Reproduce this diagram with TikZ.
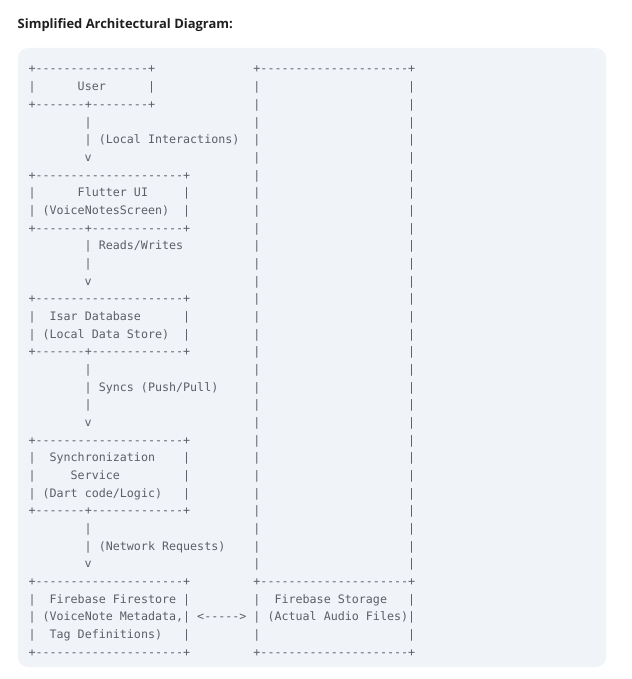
\documentclass[tikz,border=0pt]{standalone}
\usepackage{fontspec}
\setmonofont{DejaVu Sans Mono}
\newfontfamily\headfont{Open Sans}
\usepackage{tikz}
\usetikzlibrary{positioning}
\definecolor{codebg}{RGB}{240,243,248}
\definecolor{codeink}{RGB}{92,96,102}
\definecolor{headink}{RGB}{31,31,31}
\tikzset{asc/.style={anchor=base west, inner sep=0pt, outer sep=0pt, text=codeink, font=\ttfamily\fontsize{11.68}{14}\selectfont}}
\tikzset{headline/.style={anchor=base west, inner sep=0pt, text=headink, font=\headfont\bfseries\fontsize{12.95}{16}\selectfont}}
\tikzset{codepanel/.style={fill=codebg, draw=none, rounded corners=10pt}}

\begin{document}
\begin{tikzpicture}[x=1pt, y=-1pt]
                \useasboundingbox (0,0) rectangle (631,679);
                \node[headline] (title) at (17.5,28.3) {Simplified Architectural Diagram:};
                \path[codepanel] (18,48) rectangle (606,667);
                %
                \begin{scope}[shift={(28.5,73)}, x=7.03pt, y=-17.67pt]
                % user box
                \node[asc] (user1) at (0,0) {+----------------+};
                \node[asc] (user2) at (0,1) {|~~~~~~User~~~~~~|};
                \node[asc] (user3) at (0,2) {+-------+--------+};
                \node[asc] (link1a) at (8,3) {|};
                \node[asc] (link1b) at (8,4) {|~(Local Interactions)};
                \node[asc] (link1c) at (8,5) {v};
                % flutter ui
                \node[asc] (ui1) at (0,6) {+---------------------+};
                \node[asc] (ui2) at (0,7) {|~~~~~~Flutter~UI~~~~~|};
                \node[asc] (ui3) at (0,8) {|~(VoiceNotesScreen)~~|};
                \node[asc] (ui4) at (0,9) {+-------+-------------+};
                \node[asc] (link2a) at (8,10) {|~Reads/Writes};
                \node[asc] (link2b) at (8,11) {|};
                \node[asc] (link2c) at (8,12) {v};
                % isar database
                \node[asc] (isar1) at (0,13) {+---------------------+};
                \node[asc] (isar2) at (0,14) {|~~Isar~Database~~~~~~|};
                \node[asc] (isar3) at (0,15) {|~(Local~Data~Store)~~|};
                \node[asc] (isar4) at (0,16) {+-------+-------------+};
                \node[asc] (link3a) at (8,17) {|};
                \node[asc] (link3b) at (8,18) {|~Syncs~(Push/Pull)};
                \node[asc] (link3c) at (8,19) {|};
                \node[asc] (link3d) at (8,20) {v};
                % sync service
                \node[asc] (sync1) at (0,21) {+---------------------+};
                \node[asc] (sync2) at (0,22) {|~~Synchronization~~~~|};
                \node[asc] (sync3) at (0,23) {|~~~~~Service~~~~~~~~~|};
                \node[asc] (sync4) at (0,24) {|~(Dart~code/Logic)~~~|};
                \node[asc] (sync5) at (0,25) {+-------+-------------+};
                \node[asc] (link4a) at (8,26) {|};
                \node[asc] (link4b) at (8,27) {|~(Network~Requests)};
                \node[asc] (link4c) at (8,28) {v};
                % firestore
                \node[asc] (fs1) at (0,29) {+---------------------+};
                \node[asc] (fs2) at (0,30) {|~~Firebase~Firestore~|};
                \node[asc] (fs3) at (0,31) {|~(VoiceNote~Metadata,|};
                \node[asc] (fs4) at (0,32) {|~~Tag~Definitions)~~~|};
                \node[asc] (fs5) at (0,33) {+---------------------+};
                \node[asc] (both) at (24,31) {<----->};
                % storage column
                \node[asc] (col1) at (32,0) {+---------------------+};
                \foreach \r in {1,...,28,32} {
                    \node[asc] (colL\r) at (32,\r) {|};
                    \node[asc] (colR\r) at (54,\r) {|};
                }
                \node[asc] (st1) at (32,29) {+---------------------+};
                \node[asc] (st2) at (32,30) {|~~Firebase~Storage~~~|};
                \node[asc] (st3) at (32,31) {|~(Actual~Audio~Files)|};
                \node[asc] (st4) at (32,33) {+---------------------+};
                \end{scope}
                %
            \end{tikzpicture}
\end{document}
